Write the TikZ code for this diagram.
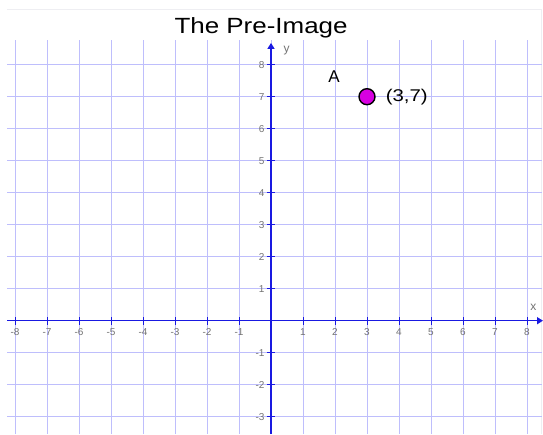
\documentclass[tikz,border=0pt]{standalone}
\usepackage{fontspec}
\setmainfont{Liberation Sans}
\usetikzlibrary{arrows.meta}
\definecolor{gridc}{RGB}{190,190,252}
\definecolor{axisc}{RGB}{25,25,225}
\definecolor{framec}{RGB}{238,238,242}
\definecolor{labc}{RGB}{115,115,115}
\definecolor{ptc}{RGB}{215,0,225}
\tikzset{
  gridline/.style={draw=gridc,line width=0.8pt},
  axisline/.style={draw=axisc,line width=1.6pt},
  ticklab/.style={font=\fontsize{10}{10}\selectfont,text=labc,inner sep=0pt},
  hand/.style={font=\fontsize{17}{17}\selectfont,text=black,inner sep=0pt}
}
\begin{document}
\begin{tikzpicture}[x=32pt,y=32pt]
\useasboundingbox[fill=white] (-8.469,-3.541) rectangle (8.5,10.022);
% frame
\draw[framec,line width=0.6pt] (-8.25,9.72) -- (8.46,9.72) -- (8.46,-3.541);
% grid
\foreach \i in {-8,...,8} \draw[gridline] (\i,-3.541) -- (\i,8.77);
\foreach \j in {-3,...,8} \draw[gridline] (-8.25,\j) -- (8.46,\j);
% axes
\coordinate (xs) at (-8.25,0);
\coordinate (xe) at (8.5,0);
\coordinate (ys) at (0,-3.541);
\coordinate (ye) at (0,8.68);
\draw[axisline,-{Triangle[length=6pt,width=7pt]}] (xs) -- (xe);
\draw[axisline,-{Triangle[length=6pt,width=7pt]}] (ys) -- (ye);
% ticks and labels
\foreach \i in {-8,...,-1,1,2,...,8} {
  \draw[axisc,line width=1pt] (\i,-0.13) -- (\i,0.13);
  \node[ticklab] at (\i,-0.36) {\i};
}
\foreach \j in {-3,...,-1,1,2,...,8} {
  \draw[axisc,line width=1pt] (-0.13,\j) -- (0.13,\j);
  \node[ticklab,anchor=east] at (-0.2,\j) {\j};
}
\node[font=\fontsize{12}{12}\selectfont,text=labc] (xl) at (8.2,0.42) {x};
\node[font=\fontsize{12}{12}\selectfont,text=labc] (yl) at (0.49,8.45) {y};
% title
\node[font=\fontsize{22}{22}\selectfont,xscale=1.18,anchor=base] (title) at (-0.31,8.99) {The Pre-Image};
% point
\node[circle,draw=black,line width=1.4pt,fill=ptc,minimum size=16pt,inner sep=0pt] (A) at (3,7) {};
\node[hand] (Alab) at (1.97,7.63) {A};
\node[hand,anchor=west,xscale=1.2] (coord) at (3.58,7) {(3,7)};
\end{tikzpicture}
\end{document}
